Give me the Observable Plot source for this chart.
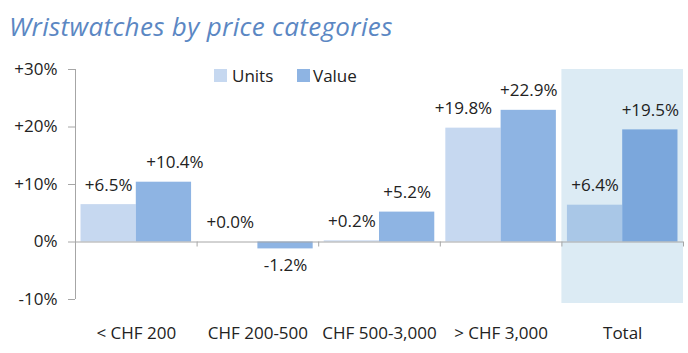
<!DOCTYPE html>
<html>
<head>
<meta charset="utf-8">
<script src="https://cdn.jsdelivr.net/npm/d3@7"></script>
<script src="https://cdn.jsdelivr.net/npm/@observablehq/plot@0.6"></script>
<style>
  body { margin: 0; background: #ffffff; }
  #wrap { position: relative; width: 688px; height: 353px; font-family: "Open Sans", sans-serif; overflow: hidden; }
  #title { height: 48px; box-sizing: border-box; padding: 11px 0 0 9px; line-height: 30px;
           font-style: italic; font-size: 26px; letter-spacing: 0.35px; color: #5b87c3; white-space: nowrap; }
  .sw { position: absolute; width: 13px; height: 13px; }
  .lg { position: absolute; font-size: 17px; line-height: 17px; color: #222; }
  #chart svg { display: block; }
</style>
</head>
<body>
<div id="wrap">
  <div id="title">Wristwatches by price categories</div>
  <div id="chart"></div>
  <div id="legend"></div>
</div>
<script>
// ---- data ----
const categories = ["< CHF 200", "CHF 200-500", "CHF 500-3,000", "> CHF 3,000", "Total"];
const seriesNames = ["Units", "Value"];
const units = [6.5, 0.0, 0.2, 19.8, 6.4];
const value = [10.4, -1.2, 5.2, 22.9, 19.5];
const yTicks = [-10, 0, 10, 20, 30];

// ---- styles ----
const colors = {
  Units: "#c6d8f0", Value: "#8eb4e3",
  TotalUnits: "#a9c7e7", TotalValue: "#7ba7dc",
  totalBg: "#dcebf4", axis: "#a6a6a6", text: "#222222"
};
const labelNudge = new Map([["< CHF 200|Value", 11], ["> CHF 3,000|Units", -10]]);

const W = 688, H = 305;
const mL = 75, mR = 5, mT = 21, mB = 50;
const facetW = (W - mL - mR) / categories.length;
const padOuter = 0.1;
const step = facetW / (2 + 2 * padOuter);
const edge = step * (0.5 + padOuter);

const rows = categories.flatMap((c, i) => [
  {category: c, series: "Units", value: units[i]},
  {category: c, series: "Value", value: value[i]}
]);
const fillOf = d => d.category === "Total" ? colors["Total" + d.series] : colors[d.series];
const fmt = v => (v >= 0 ? "+" : "") + v.toFixed(1) + "%";
const nudge = d => labelNudge.get(d.category + "|" + d.series) ?? 0;

const labelMarks = [];
for (const dx of [...new Set(rows.map(nudge))]) {
  const sub = rows.filter(d => nudge(d) === dx);
  labelMarks.push(Plot.text(sub.filter(d => d.value >= 0), {
    fx: "category", x: "series", y: "value", text: d => fmt(d.value),
    lineAnchor: "bottom", dy: -14, dx, fontSize: 17, fill: colors.text
  }));
  labelMarks.push(Plot.text(sub.filter(d => d.value < 0), {
    fx: "category", x: "series", y: "value", text: d => fmt(d.value),
    lineAnchor: "top", dy: 10, dx, fontSize: 17, fill: colors.text
  }));
}

const plot = Plot.plot({
  width: W, height: H,
  marginLeft: mL, marginRight: mR, marginTop: mT, marginBottom: mB,
  style: {fontFamily: "Open Sans, sans-serif", background: "transparent"},
  fx: {domain: categories, padding: 0, round: false, axis: null},
  x: {domain: seriesNames, paddingInner: 0, paddingOuter: padOuter, round: false, axis: null},
  y: {domain: [yTicks[0], yTicks[yTicks.length - 1]], insetBottom: 4, axis: null},
  color: {type: "identity"},
  marks: [
    Plot.rect([{category: "Total"}], {fx: "category", fill: colors.totalBg}),
    Plot.barY(rows, {fx: "category", x: "series", y: "value", fill: fillOf}),
    Plot.ruleY([0], {stroke: colors.axis}),
    // category boundary ticks
    Plot.ruleX(rows.filter(d => d.series === "Units"), {
      fx: "category", x: "series", y1: 0, y2: 0, insetBottom: -5, dx: -edge, stroke: colors.axis
    }),
    Plot.ruleX(rows.filter(d => d.series === "Value" && d.category === categories[categories.length - 1]), {
      fx: "category", x: "series", y1: 0, y2: 0, insetBottom: -5, dx: edge, stroke: colors.axis
    }),
    // vertical axis line
    Plot.ruleX([{category: categories[0], series: "Units"}], {
      fx: "category", x: "series", y1: yTicks[0], y2: yTicks[yTicks.length - 1], dx: -edge, stroke: colors.axis
    }),
    Plot.axisY({
      ticks: yTicks, tickFormat: v => (v > 0 ? "+" : "") + v + "%", label: null,
      tickSize: 7, tickPadding: 11, fontSize: 17, stroke: colors.axis, fill: colors.text
    }),
    Plot.axisFx({anchor: "bottom", tickSize: 0, tickPadding: 23, fontSize: 17, fill: colors.text, label: null}),
    ...labelMarks
  ]
});
document.getElementById("chart").appendChild(plot);

// legend
const legend = document.getElementById("legend");
const legendPos = {Units: [214, 232], Value: [297, 313]};
for (const s of seriesNames) {
  const sw = document.createElement("div");
  sw.className = "sw";
  sw.style.left = legendPos[s][0] + "px";
  sw.style.top = "69px";
  sw.style.background = colors[s];
  const t = document.createElement("div");
  t.className = "lg";
  t.style.left = legendPos[s][1] + "px";
  t.style.top = "67px";
  t.textContent = s;
  legend.appendChild(sw);
  legend.appendChild(t);
}
</script>
</body>
</html>
